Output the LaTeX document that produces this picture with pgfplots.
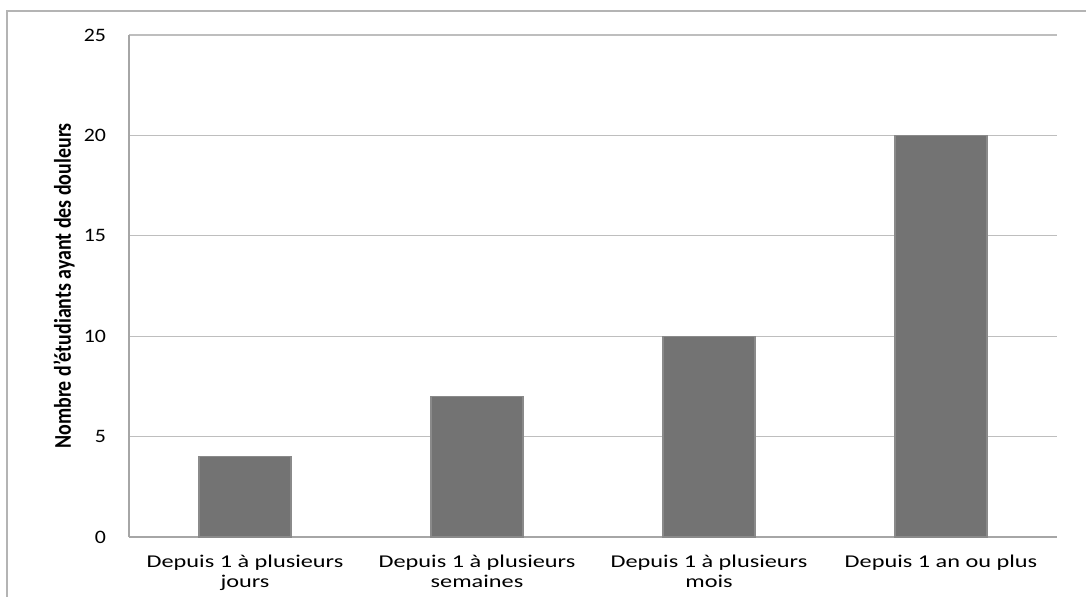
\documentclass[border=0pt]{standalone}
\usepackage{pgfplots}
\pgfplotsset{compat=1.18}
\usepackage{fontspec}
\setmainfont{Carlito}[FakeStretch=1.35]
\newfontfamily\numfont{Carlito}[FakeStretch=1.15]
\newfontfamily\labelfont{Carlito}[FakeStretch=0.83]
\usetikzlibrary{calc}
\definecolor{barc}{HTML}{737373}
\definecolor{baredge}{HTML}{8A8A8A}
\definecolor{gridc}{HTML}{BEBEBE}
\definecolor{axisc}{HTML}{A6A6A6}
\definecolor{framec}{HTML}{B4B4B4}
\begin{document}
\begin{tikzpicture}
\begin{axis}[
  name=ax,
  scale only axis,
  width=464pt, height=251pt,
  xmin=-0.5, xmax=3.5,
  ymin=0, ymax=25,
  ytick={0,5,10,15,20,25},
  xtick=data,
  xticklabels={{Depuis 1 à plusieurs\\jours},{Depuis 1 à plusieurs\\semaines},{Depuis 1 à plusieurs\\mois},{Depuis 1 an ou plus}},
  ybar,
  bar width=46pt,
  ymajorgrids,
  grid style={color=gridc, line width=0.6pt},
  axis x line=bottom, axis y line=left,
  axis line style={-, color=axisc, line width=0.6pt},
  major tick length=0pt,
  /pgf/number format/assume math mode=true,
  xticklabel style={align=center, font=\fontsize{9}{10}\selectfont, text=black, yshift=-5.5pt},
  yticklabel style={font=\numfont\fontsize{9.5}{10}\selectfont, text=black, xshift=-8pt},
  ylabel={\labelfont\bfseries\fontsize{12}{14}\selectfont Nombre d’étudiants ayant des douleurs},
  ylabel style={at={(rel axis cs:0,0.5)}, anchor=center, yshift=32.5pt},
]
\addplot[fill=barc, draw=baredge, line width=0.6pt] coordinates {(0,4) (1,7) (2,10) (3,20)};
\end{axis}
\pgfresetboundingbox
\path[use as bounding box] ($(ax.south west)+(-64.5pt,-29.5pt)$) rectangle ($(ax.north east)+(14.5pt,17.5pt)$);
\draw[framec, line width=0.8pt] ($(ax.south west)+(-61pt,-40pt)$) |- ($(ax.north east)+(30pt,12pt)$);
\end{tikzpicture}
\end{document}
